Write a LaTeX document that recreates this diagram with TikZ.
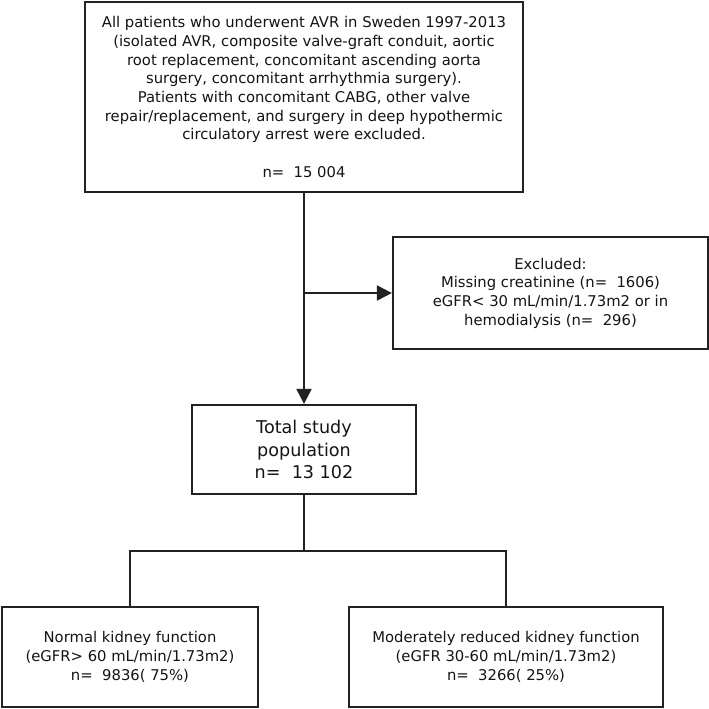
\documentclass[tikz,border=0pt]{standalone}
\usepackage{fontspec}
\setmainfont{DejaVu Sans}
\usetikzlibrary{arrows.meta}
\definecolor{linec}{RGB}{34,34,34}
\definecolor{textc}{RGB}{20,20,20}
\begin{document}
\begin{tikzpicture}[x=1pt,y=-1pt,
  box/.style={draw=linec, line width=2.3pt, rectangle, inner sep=0pt, align=center, text=textc,
    font=\fontsize{14.8}{18.7}\selectfont},
  bigbox/.style={box, font=\fontsize{17.6}{22.5}\selectfont},
  conn/.style={draw=linec, line width=2.3pt},
  arr/.style={conn, -{Triangle[length=15pt,width=15pt]}}
]
\useasboundingbox (0,0) rectangle (709,709);

\node[box, minimum width=438pt, minimum height=190pt] (top) at (304,97)
 {All patients who underwent AVR in Sweden 1997-2013\\
  (isolated AVR, composite valve-graft conduit, aortic\\
  root replacement, concomitant ascending aorta\\
  surgery, concomitant arrhythmia surgery).\\
  Patients with concomitant CABG, other valve\\
  repair/replacement, and surgery in deep hypothermic\\
  circulatory arrest were excluded.\\[18.7pt]
  n=~~15 004};

\node[box, minimum width=315pt, minimum height=112pt] (excl) at (550.5,293)
 {Excluded:\\
  Missing creatinine (n=~~1606)\\
  eGFR<~30 mL/min/1.73m2 or in\\
  hemodialysis (n=~~296)};

\node[bigbox, minimum width=224pt, minimum height=89pt] (total) at (304,449.5)
 {Total study\\ population\\ n=~~13 102};

\node[box, minimum width=256pt, minimum height=100pt] (normal) at (130,657)
 {Normal kidney function\\
  (eGFR>~60 mL/min/1.73m2)\\
  n=~~9836(~75\%)};

\node[box, minimum width=314pt, minimum height=100pt] (reduced) at (506,657)
 {Moderately reduced kidney function\\
  (eGFR 30-60 mL/min/1.73m2)\\
  n=~~3266(~25\%)};

\coordinate (split) at (304,551);

\draw[arr] (top.south) -- (total.north);
\draw[arr] (top.south |- excl.west) -- (excl.west);
\draw[conn] (total.south) -- (split);
\draw[conn] (normal.north) |- (split) -| (reduced.north);
\end{tikzpicture}
\end{document}
